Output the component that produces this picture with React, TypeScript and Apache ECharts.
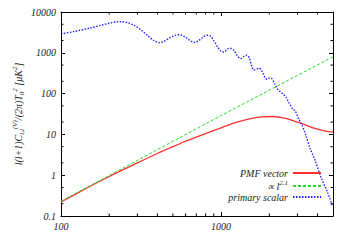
import React, { useEffect, useRef } from "react";
import * as echarts from "echarts";

// multipole l
const pmfL = [100, 150, 200, 300, 400, 500, 600, 700, 800, 1000, 1200, 1500, 1800, 2100, 2500, 3000, 3500, 4000, 4500, 5000];
const pmfVals = [0.22, 0.52, 0.93, 2.0, 3.4, 5.0, 6.8, 8.6, 10.5, 14.5, 19, 24, 27, 27.5, 25, 20, 16, 13.5, 12, 11.5];

const powL = [100, 1000, 5000];
const powVals = [0.23, 29, 800];

const scalarL = [100, 120, 150, 180, 200, 220, 240, 260, 290, 320, 350, 380, 410, 440, 480, 520, 550, 590, 640, 680, 720, 770, 820, 860, 900, 950, 1000, 1040, 1100, 1140, 1200, 1260, 1320, 1380, 1450, 1500, 1560, 1600, 1670, 1730, 1800, 1880, 1930, 2000, 2050, 2150, 2250, 2350, 2450, 2550, 2650, 2800, 2900, 3050, 3200, 3400, 3600, 3870, 4200, 4600, 4950];
const scalarVals = [2900, 3300, 4000, 4800, 5300, 5700, 5800, 5500, 4600, 3500, 2600, 2000, 1780, 1900, 2350, 2700, 2780, 2500, 2000, 1800, 1950, 2400, 2700, 2550, 2000, 1400, 1080, 1050, 1250, 1290, 1150, 850, 720, 800, 870, 750, 450, 380, 400, 420, 350, 250, 225, 240, 240, 180, 130, 110, 95, 80, 60, 42, 38, 24, 17, 9, 4.5, 2.3, 0.9, 0.4, 0.18];

const xMinorTicks = [200, 300, 400, 500, 600, 700, 800, 900, 2000, 3000, 4000];
const yMinorTicks = [0.2, 0.5, 2, 5, 20, 50, 200, 500, 2000, 5000];

const seriesNames = ["PMF vector", "∝ l^2.1", "primary scalar"];

const FONT = "Liberation Serif";
const TXT = "#222";

function pow10Label(v: number): string {
  const e = Math.log10(v);
  if (Math.abs(e - Math.round(e)) > 1e-6) return "";
  const r = Math.round(e);
  return r < 0 ? String(Math.pow(10, r)) : String(Math.round(Math.pow(10, r)));
}

const richStyles = {
  i: { fontFamily: FONT, fontStyle: "italic", fontSize: 10, color: TXT, lineHeight: 14, verticalAlign: "middle" },
  n: { fontFamily: FONT, fontSize: 10, color: TXT, lineHeight: 14, verticalAlign: "middle" },
  sup: { fontFamily: FONT, fontStyle: "italic", fontSize: 7, color: TXT, lineHeight: 8, verticalAlign: "top" },
  sub: { fontFamily: FONT, fontStyle: "italic", fontSize: 7, color: TXT, lineHeight: 8, verticalAlign: "bottom" },
};

export default function App() {
  const ref = useRef<HTMLDivElement>(null);
  useEffect(() => {
    if (!ref.current) return;
    const chart = echarts.init(ref.current, undefined, { renderer: "svg" });
    const tickStyle = { stroke: "#000", lineWidth: 1 };
    const option: any = {
      animation: false,
      backgroundColor: "#fff",
      grid: { left: 61, right: 17, top: 12, bottom: 29, containLabel: false, outerBoundsMode: "none" },
      legend: {
        data: seriesNames,
        orient: "vertical",
        right: 28,
        top: 168,
        padding: 0,
        align: "right",
        itemWidth: 28,
        itemHeight: 10,
        itemGap: 1,
        itemStyle: { opacity: 0 },
        formatter: (name: string) => {
          if (name === "∝ l^2.1") return "{n|∝ }{i|l}{sup|2.1}";
          return "{i|" + name + "}";
        },
        textStyle: {
          fontFamily: FONT,
          fontStyle: "italic",
          fontSize: 10,
          color: TXT,
          rich: richStyles,
        },
      },
      xAxis: [
        {
          type: "log",
          logBase: 10,
          min: 100,
          max: 5000,
          interval: 1,
          position: "bottom",
          axisLine: { show: true, lineStyle: { color: "#000", width: 1 } },
          axisTick: { show: true, inside: true, length: 4, lineStyle: { color: "#000" } },
          splitLine: { show: false },
          axisLabel: {
            formatter: pow10Label,
            fontFamily: FONT,
            fontStyle: "italic",
            fontSize: 10,
            color: TXT,
            margin: 5,
          },
          name: "l",
          nameLocation: "middle",
          nameGap: 19,
          nameMoveOverlap: false,
          nameTextStyle: { fontFamily: FONT, fontStyle: "italic", fontSize: 11, color: TXT },
        },
        {
          type: "log",
          logBase: 10,
          min: 100,
          max: 5000,
          interval: 1,
          position: "top",
          axisLine: { show: true, lineStyle: { color: "#000", width: 1 } },
          axisTick: { show: true, inside: true, length: 4, lineStyle: { color: "#000" } },
          splitLine: { show: false },
          axisLabel: { show: false },
        },
      ],
      yAxis: [
        {
          type: "log",
          logBase: 10,
          min: 0.1,
          max: 10000,
          interval: 1,
          position: "left",
          axisLine: { show: true, lineStyle: { color: "#000", width: 1 } },
          axisTick: { show: true, inside: true, length: 4, lineStyle: { color: "#000" } },
          splitLine: { show: false },
          axisLabel: {
            formatter: pow10Label,
            fontFamily: FONT,
            fontStyle: "italic",
            fontSize: 10,
            color: TXT,
            margin: 5,
          },
          name: "{i|l(l+1)C}{sub|l,l}{sup|(V)}{i|/(2}{n|π}{i|)T}{sub|0}{sup|2}{i| [}{n|μ}{i|K}{sup|2}{i|]}",
          nameLocation: "middle",
          nameRotate: 90,
          nameGap: 36,
          nameMoveOverlap: false,
          nameTextStyle: {
            fontFamily: FONT,
            fontStyle: "italic",
            fontSize: 10,
            color: TXT,
            rich: richStyles,
          },
        },
        {
          type: "log",
          logBase: 10,
          min: 0.1,
          max: 10000,
          interval: 1,
          position: "right",
          axisLine: { show: true, lineStyle: { color: "#000", width: 1 } },
          axisTick: { show: true, inside: true, length: 4, lineStyle: { color: "#000" } },
          splitLine: { show: false },
          axisLabel: { show: false },
        },
      ],
      series: [
        {
          name: seriesNames[0],
          type: "line",
          data: pmfL.map((l, i) => [l, pmfVals[i]]),
          showSymbol: false,
          symbol: "none",
          smooth: 0.3,
          lineStyle: { color: "#ff3030", width: 1.3, type: "solid" },
          itemStyle: { color: "#ff3030" },
          z: 3,
        },
        {
          name: seriesNames[1],
          type: "line",
          data: powL.map((l, i) => [l, powVals[i]]),
          showSymbol: false,
          symbol: "none",
          lineStyle: { color: "#22dd22", width: 1, type: [3, 2] },
          itemStyle: { color: "#22dd22" },
          z: 3,
        },
        {
          name: seriesNames[2],
          type: "line",
          data: scalarL.map((l, i) => [l, scalarVals[i]]),
          showSymbol: false,
          symbol: "none",
          smooth: 0.3,
          lineStyle: { color: "#2020ff", width: 1.4, type: [1.5, 1.5] },
          itemStyle: { color: "#2020ff" },
          z: 3,
        },
        {
          name: "xminor",
          type: "custom",
          silent: true,
          data: xMinorTicks.map((v) => [v, 1]),
          renderItem: (params: any, api: any) => {
            const cs = params.coordSys;
            const x = api.coord([api.value(0), 1])[0];
            const b = cs.y + cs.height;
            return {
              type: "group",
              children: [
                { type: "line", shape: { x1: x, y1: b, x2: x, y2: b - 2.5 }, style: tickStyle },
                { type: "line", shape: { x1: x, y1: cs.y, x2: x, y2: cs.y + 2.5 }, style: tickStyle },
              ],
            };
          },
          z: 4,
        },
        {
          name: "yminor",
          type: "custom",
          silent: true,
          data: yMinorTicks.map((v) => [100, v]),
          renderItem: (params: any, api: any) => {
            const cs = params.coordSys;
            const y = api.coord([100, api.value(1)])[1];
            const r = cs.x + cs.width;
            return {
              type: "group",
              children: [
                { type: "line", shape: { x1: cs.x, y1: y, x2: cs.x + 2.5, y2: y }, style: tickStyle },
                { type: "line", shape: { x1: r, y1: y, x2: r - 2.5, y2: y }, style: tickStyle },
              ],
            };
          },
          z: 4,
        },
      ],
    };
    chart.setOption(option);
    return () => chart.dispose();
  }, []);
  return <div ref={ref} style={{ width: 350, height: 245, margin: -8 }} />;
}
